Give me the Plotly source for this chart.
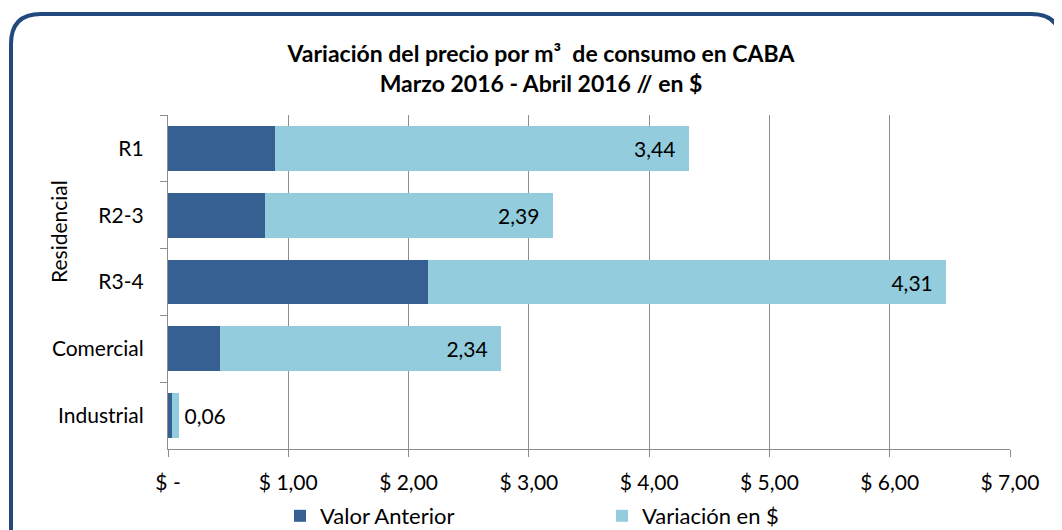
import plotly.graph_objects as go

categories = ["R1", "R2-3", "R3-4", "Comercial", "Industrial"]
valor_anterior = [0.89, 0.81, 2.16, 0.43, 0.03]
variacion = [3.44, 2.39, 4.31, 2.34, 0.06]
variacion_labels = ["3,44", "2,39", "4,31", "2,34", "0,06"]
x_tick_vals = [0, 1, 2, 3, 4, 5, 6, 7]
x_tick_text = ["$ -", "$ 1,00", "$ 2,00", "$ 3,00", "$ 4,00", "$ 5,00", "$ 6,00", "$ 7,00"]

OFF = 8                      # page body margin
W, H = 1062 - OFF, 530 - OFF  # figure size
L, R, T, B = 168, 1010, 115, 449  # plot area in screen pixels
FONT = "Lato"

def px(x):
    return (x - L) / (R - L)

def py(y):
    return (B - y) / (B - T)

def cx(x):
    return (x - OFF) / W

def cy(y):
    return 1 - (y - OFF) / H

fig = go.Figure()
fig.add_trace(go.Bar(
    y=categories, x=valor_anterior, orientation="h", name="Valor Anterior",
    marker=dict(color="#376092", line=dict(width=0)), legend="legend",
    showlegend=True, hoverinfo="x+y",
))
fig.add_trace(go.Bar(
    y=categories, x=variacion, orientation="h", name="Variación en $",
    marker=dict(color="#93CDDD", line=dict(width=0)), legend="legend2",
    showlegend=True,
    text=variacion_labels,
    texttemplate=["%{text}\u2002"] * 4 + ["\u2009%{text}"],
    textposition=["inside", "inside", "inside", "inside", "outside"],
    insidetextanchor="end", textangle=0,
    textfont=dict(color="black", size=21, family=FONT),
    insidetextfont=dict(color="black", size=21, family=FONT),
    outsidetextfont=dict(color="black", size=21, family=FONT),
    cliponaxis=False, hoverinfo="x+y",
))

# rounded frame path (screen pixel -> paper)
x0, y0, x1, y1, rr = 11, 14, 1061, 560, 30
path = (
    f"M {px(x0)},{py(y1)} L {px(x0)},{py(y0 + rr)} "
    f"Q {px(x0)},{py(y0)} {px(x0 + rr)},{py(y0)} "
    f"L {px(x1 - rr)},{py(y0)} "
    f"Q {px(x1)},{py(y0)} {px(x1)},{py(y0 + rr)} "
    f"L {px(x1)},{py(y1)}"
)

fig.update_layout(
    width=W, height=H,
    margin=dict(l=L - OFF, r=W - (R - OFF), t=T - OFF, b=H - (B - OFF), autoexpand=False),
    paper_bgcolor="white", plot_bgcolor="white",
    barmode="stack", bargap=0.33, showlegend=True,
    font=dict(family=FONT, color="black", size=21),
    title=dict(
        text="<b>Variación del precio por m³  de consumo en CABA<br>Marzo 2016 - Abril 2016 // en $</b>",
        x=cx(541), xanchor="center", y=cy(62), yanchor="middle",
        font=dict(family=FONT, size=23, color="black"),
    ),
    xaxis=dict(
        range=[0, 7], tickvals=x_tick_vals, ticktext=x_tick_text,
        showgrid=True, gridcolor="#8C8C8C", gridwidth=1.3,
        showline=True, linecolor="#8C8C8C", linewidth=1.3,
        ticks="outside", ticklen=7, tickcolor="#8C8C8C", tickwidth=1.3,
        ticklabelstandoff=8, zeroline=False,
        tickfont=dict(size=21, family=FONT),
        fixedrange=True,
    ),
    yaxis=dict(
        autorange="reversed", categoryorder="array", categoryarray=categories,
        showgrid=False, showline=True, linecolor="#8C8C8C", linewidth=1.3,
        ticks="outside", ticklen=7, tickcolor="#8C8C8C", tickwidth=1.3,
        tickson="boundaries", ticklabelstandoff=19,
        tickfont=dict(size=21, family=FONT),
        fixedrange=True,
    ),
    legend=dict(
        orientation="h", xref="container", yref="container",
        x=cx(280), xanchor="left", y=cy(516), yanchor="middle",
        font=dict(size=22, family=FONT), bgcolor="rgba(0,0,0,0)",
        itemwidth=30, tracegroupgap=0,
    ),
    legend2=dict(
        orientation="h", xref="container", yref="container",
        x=cx(602), xanchor="left", y=cy(516), yanchor="middle",
        font=dict(size=22, family=FONT), bgcolor="rgba(0,0,0,0)",
        itemwidth=30, tracegroupgap=0,
    ),
    shapes=[dict(
        type="path", xref="paper", yref="paper", path=path,
        line=dict(color="#22497E", width=4), layer="above",
    )],
    annotations=[dict(
        text="Residencial", textangle=-90, xref="paper", yref="paper",
        x=px(58), y=py(232), xanchor="center", yanchor="middle",
        showarrow=False, font=dict(size=21, family=FONT, color="black"),
    )],
)

fig.write_html("out.html")
